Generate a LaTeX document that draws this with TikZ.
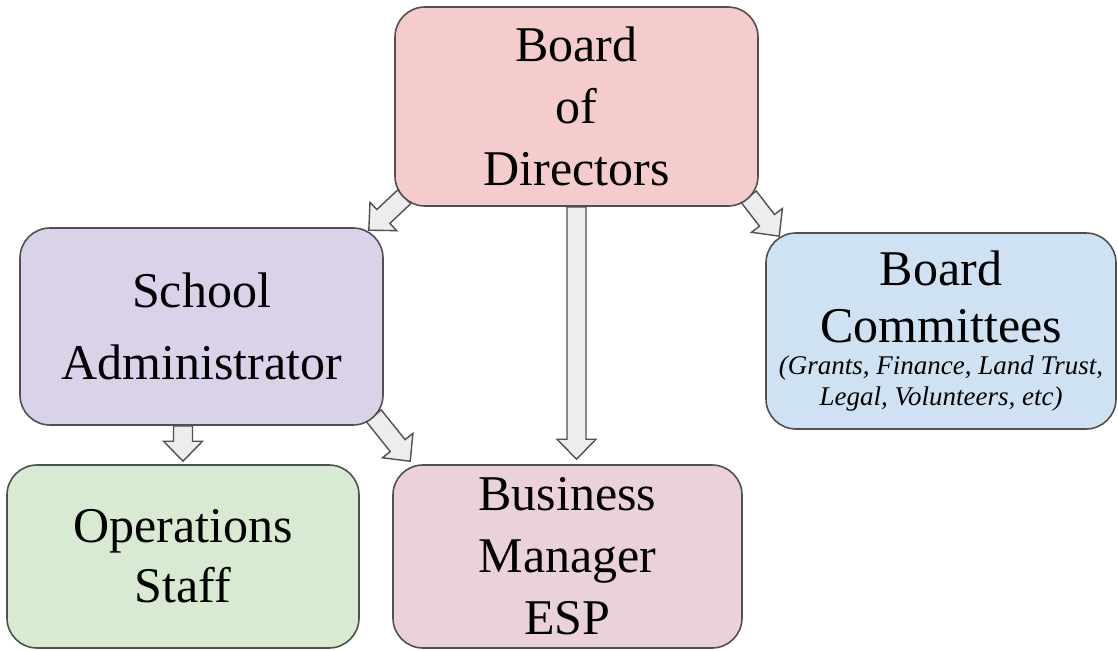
\documentclass[tikz,border=0pt]{standalone}
\usepackage{fontspec}
\setmainfont{Liberation Serif}
\usetikzlibrary{calc, backgrounds}

\definecolor{boardred}{HTML}{F4CCCC}
\definecolor{schoolpurple}{HTML}{D9D2E9}
\definecolor{cmteblue}{HTML}{CFE2F3}
\definecolor{opsgreen}{HTML}{D9EAD3}
\definecolor{bizpink}{HTML}{EAD1DC}
\definecolor{edgegray}{HTML}{505050}
\definecolor{arrowgray}{HTML}{EDEDED}

\begin{document}
\begin{tikzpicture}[
    x=1pt, y=-1pt,
    every node/.style={font=\fontsize{50}{62}\selectfont, align=center},
    unit/.style={rounded corners=30pt, draw=edgegray, line width=1.6pt, inner sep=0pt},
    boardunit/.style={unit, fill=boardred, minimum width=363pt, minimum height=199pt},
    schoolunit/.style={unit, fill=schoolpurple, minimum width=363pt, minimum height=197pt},
    cmteunit/.style={unit, fill=cmteblue, minimum width=350pt, minimum height=196pt},
    opsunit/.style={unit, fill=opsgreen, minimum width=352pt, minimum height=183pt},
    bizunit/.style={unit, fill=bizpink, minimum width=349pt, minimum height=183pt},
    blockarrow/.style={draw=edgegray, fill=arrowgray, line width=1.4pt, line join=miter}
]

\useasboundingbox (0,0) rectangle (1118,650);

% Arrow sizes
\def\shafthalf{9.5pt}
\def\headhalf{19.5pt}
\def\headlength{20pt}

% Units
\node[boardunit] (board) at (576.5,106.5) {Board\\of\\Directors};
\node[schoolunit] (school) at (201.5,326.5) {School\\[10pt]Administrator};
\node[cmteunit] (cmte) at (941,331) {Board\\[-5pt]Committees\\[-30pt]%
    \fontsize{27}{31}\selectfont\itshape (Grants, Finance, Land Trust,\\[-31pt]%
    \fontsize{27}{31}\selectfont\itshape Legal, Volunteers, etc)};
\node[opsunit] (ops) at (183,556.5) {Operations\\[-2pt]Staff};
\node[bizunit] (biz) at (567.5,556.5) {Business\\Manager\\ESP};

% Arrow ends
\coordinate (board_left) at ($(board.south west)+(10pt,10pt)$);
\coordinate (school_in) at ($(school.north east)+(-15pt,-3pt)$);
\coordinate (board_right) at ($(board.south east)+(-10pt,10pt)$);
\coordinate (cmte_in) at ($(cmte.north west)+(14pt,-4pt)$);
\coordinate (board_mid) at (board.south);
\coordinate (biz_in) at ($(board.south |- biz.north)+(0,5pt)$);
\coordinate (school_mid) at (school.south -| ops.north);
\coordinate (ops_in) at ($(ops.north)+(0,3pt)$);
\coordinate (school_right) at ($(school.south east)+(-10pt,10pt)$);
\coordinate (biz_in2) at ($(biz.north west)+(18pt,3pt)$);

% Block arrows behind the units
\begin{scope}[on background layer]
\foreach \from/\to in {board_left/school_in, board_right/cmte_in, board_mid/biz_in,
                       school_mid/ops_in, school_right/biz_in2} {
    \coordinate (base) at ($(\to)!\headlength!(\from)$);
    \draw[blockarrow] ($(\from)!\shafthalf!90:(\to)$) -- ($(base)!\shafthalf!90:(\to)$)
        -- ($(base)!\headhalf!90:(\to)$) -- (\to) -- ($(base)!\headhalf!-90:(\to)$)
        -- ($(base)!\shafthalf!-90:(\to)$) -- ($(\from)!\shafthalf!-90:(\to)$) -- cycle;
}
\end{scope}

\end{tikzpicture}
\end{document}
